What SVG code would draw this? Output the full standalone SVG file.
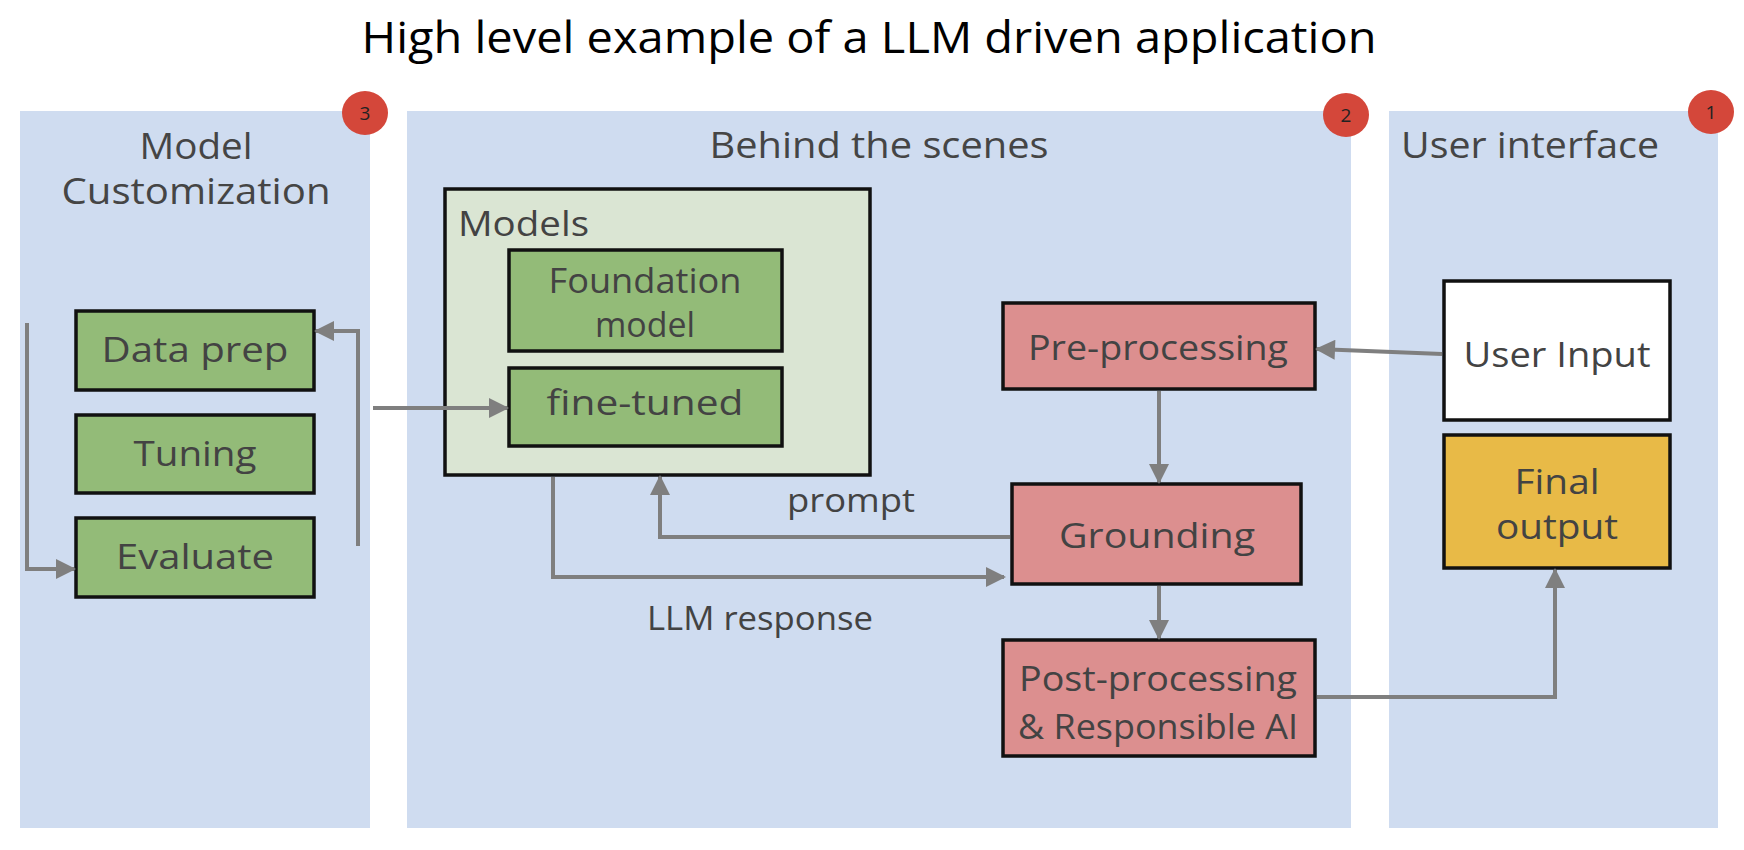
<svg xmlns="http://www.w3.org/2000/svg" width="1744" height="850" viewBox="0 0 1744 850">
<style>
.panel{fill:#cfdcf0}
.badge{fill:#d4473a}
.btxt{font-family:"Open Sans","Liberation Sans",sans-serif;font-size:19px;fill:#222;text-anchor:middle}
.ptitle{font-family:"Open Sans","Liberation Sans",sans-serif;font-size:36px;fill:#454545;text-anchor:middle}
.box{stroke:#111;stroke-width:3.5}
.green{fill:#93bb78}
.red{fill:#dc8f8f}
.ntxt{font-family:"Open Sans","Liberation Sans",sans-serif;font-size:35px;fill:#434343;text-anchor:middle}
.lbl{font-family:"Open Sans","Liberation Sans",sans-serif;font-size:32px;fill:#434343;text-anchor:middle}
.conn{fill:none;stroke:#7f7f7f;stroke-width:4}
</style>
<defs>
<marker id="arr" viewBox="0 0 10 10" refX="9" refY="5" markerWidth="5.5" markerHeight="5" orient="auto" markerUnits="strokeWidth">
<path d="M0,0 L10,5 L0,10 z" fill="#7f7f7f"/>
</marker>
</defs>
<rect width="1744" height="850" fill="#fff"/>
<text x="869" y="53" font-family="'Open Sans','Liberation Sans',sans-serif" font-size="44" fill="#000" text-anchor="middle" textLength="1015" lengthAdjust="spacingAndGlyphs">High level example of a LLM driven application</text>

<g id="panel-model-customization">
<rect class="panel" x="20" y="111" width="350" height="717"/>
<text class="ptitle" x="196" y="159" textLength="113" lengthAdjust="spacingAndGlyphs">Model</text>
<text class="ptitle" x="196" y="204" textLength="269" lengthAdjust="spacingAndGlyphs">Customization</text>
</g>
<g id="panel-behind">
<rect class="panel" x="407" y="111" width="944" height="717"/>
<text class="ptitle" x="879" y="158" textLength="339" lengthAdjust="spacingAndGlyphs">Behind the scenes</text>
</g>
<g id="panel-ui">
<rect class="panel" x="1389" y="111" width="329" height="717"/>
<text class="ptitle" x="1530" y="158" textLength="258" lengthAdjust="spacingAndGlyphs">User interface</text>
</g>

<g id="badge-3"><ellipse class="badge" cx="365" cy="113" rx="23" ry="22"/><text class="btxt" x="365" y="120">3</text></g>
<g id="badge-2"><ellipse class="badge" cx="1346" cy="115" rx="23" ry="22"/><text class="btxt" x="1346" y="122">2</text></g>
<g id="badge-1"><ellipse class="badge" cx="1711" cy="112" rx="23" ry="22"/><text class="btxt" x="1711" y="119">1</text></g>

<g id="data-prep"><rect class="box green" x="76" y="311" width="238" height="79"/><text class="ntxt" x="195" y="362" textLength="187" lengthAdjust="spacingAndGlyphs">Data prep</text></g>
<g id="tuning"><rect class="box green" x="76" y="415" width="238" height="78"/><text class="ntxt" x="195" y="466" textLength="123" lengthAdjust="spacingAndGlyphs">Tuning</text></g>
<g id="evaluate"><rect class="box green" x="76" y="518" width="238" height="79"/><text class="ntxt" x="195" y="569" textLength="158" lengthAdjust="spacingAndGlyphs">Evaluate</text></g>

<g id="models">
<rect class="box" fill="#dae5d3" x="445" y="189" width="425" height="286"/>
<text class="ntxt" x="458" y="236" style="text-anchor:start" textLength="131" lengthAdjust="spacingAndGlyphs">Models</text>
</g>
<g id="foundation-model"><rect class="box green" x="509" y="250" width="273" height="101"/><text class="ntxt" x="645" y="293" textLength="193" lengthAdjust="spacingAndGlyphs">Foundation</text><text class="ntxt" x="645" y="337" textLength="100" lengthAdjust="spacingAndGlyphs">model</text></g>
<g id="fine-tuned"><rect class="box green" x="509" y="368" width="273" height="78"/><text class="ntxt" x="645" y="415" textLength="197" lengthAdjust="spacingAndGlyphs">fine-tuned</text></g>

<g id="pre-processing"><rect class="box red" x="1003" y="303" width="312" height="86"/><text class="ntxt" x="1158" y="360" textLength="260" lengthAdjust="spacingAndGlyphs">Pre-processing</text></g>
<g id="grounding"><rect class="box red" x="1012" y="484" width="289" height="100"/><text class="ntxt" x="1157" y="548" textLength="196" lengthAdjust="spacingAndGlyphs">Grounding</text></g>
<g id="post-processing"><rect class="box red" x="1003" y="640" width="312" height="116"/><text class="ntxt" x="1158" y="691" textLength="278" lengthAdjust="spacingAndGlyphs">Post-processing</text><text class="ntxt" x="1158" y="739" textLength="280" lengthAdjust="spacingAndGlyphs">&amp; Responsible AI</text></g>

<g id="user-input"><rect class="box" fill="#fff" x="1444" y="281" width="226" height="139"/><text class="ntxt" x="1557" y="367" textLength="187" lengthAdjust="spacingAndGlyphs">User Input</text></g>
<g id="final-output"><rect class="box" fill="#e8ba47" x="1444" y="435" width="226" height="133"/><text class="ntxt" x="1557" y="494" textLength="85" lengthAdjust="spacingAndGlyphs">Final</text><text class="ntxt" x="1557" y="539" textLength="122" lengthAdjust="spacingAndGlyphs">output</text></g>

<g id="connectors">
<path class="conn" d="M27,323 V569 H74" marker-end="url(#arr)"/>
<path class="conn" d="M358,546 V331 H316" marker-end="url(#arr)"/>
<path class="conn" d="M373,408 H507" marker-end="url(#arr)"/>
<path class="conn" d="M553,477 V577 H1004" marker-end="url(#arr)"/>
<path class="conn" d="M1010,537 H660 V477" marker-end="url(#arr)"/>
<path class="conn" d="M1159,391 V482" marker-end="url(#arr)"/>
<path class="conn" d="M1159,586 V638" marker-end="url(#arr)"/>
<path class="conn" d="M1442,354 L1317,349" marker-end="url(#arr)"/>
<path class="conn" d="M1317,697 H1555 V570" marker-end="url(#arr)"/>
<text class="lbl" x="851" y="512" textLength="128" lengthAdjust="spacingAndGlyphs">prompt</text>
<text class="lbl" x="760" y="630" textLength="226" lengthAdjust="spacingAndGlyphs">LLM response</text>
</g>
</svg>
